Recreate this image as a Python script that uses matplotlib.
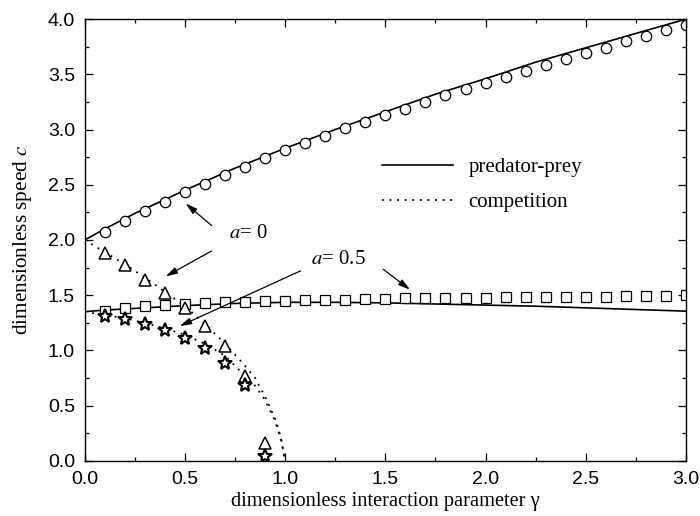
"""Travelling-wave speed c versus interaction parameter gamma (a = 0, a = 0.5)."""

import matplotlib

matplotlib.use("Agg")
import matplotlib.pyplot as plt  # noqa: E402
from matplotlib.lines import Line2D  # noqa: E402
from matplotlib.ticker import MultipleLocator  # noqa: E402

# numerical points, gamma = 0.1 ... 3.0
gamma_pts = [0.1, 0.2, 0.3, 0.4, 0.5, 0.6, 0.7, 0.8, 0.9, 1.0,
             1.1, 1.2, 1.3, 1.4, 1.5, 1.6, 1.7, 1.8, 1.9, 2.0,
             2.1, 2.2, 2.3, 2.4, 2.5, 2.6, 2.7, 2.8, 2.9, 3.0]
circ_a0 = [2.07, 2.17, 2.26, 2.34, 2.43, 2.51, 2.59, 2.66, 2.74, 2.81,
           2.88, 2.94, 3.01, 3.07, 3.13, 3.19, 3.25, 3.31, 3.37, 3.42,
           3.48, 3.53, 3.58, 3.64, 3.69, 3.74, 3.80, 3.85, 3.90, 3.95]
sq_a05 = [1.36, 1.38, 1.40, 1.41, 1.42, 1.43, 1.435, 1.44, 1.445, 1.45,
          1.455, 1.46, 1.46, 1.465, 1.465, 1.47, 1.47, 1.47, 1.475, 1.475,
          1.48, 1.48, 1.48, 1.485, 1.485, 1.485, 1.49, 1.49, 1.49, 1.50]

# competition points, gamma = 0.1 ... 0.9
gamma_comp_pts = [0.1, 0.2, 0.3, 0.4, 0.5, 0.6, 0.7, 0.8, 0.9]
tri_a0 = [1.88, 1.77, 1.64, 1.52, 1.38, 1.22, 1.04, 0.77, 0.16]
star_a05 = [1.31, 1.28, 1.24, 1.18, 1.11, 1.02, 0.89, 0.69, 0.045]

# predator-prey curves
pp_gamma = [0.0, 0.1, 0.25, 0.5, 0.75, 1.0, 1.25, 1.5, 1.75, 2.0, 2.25, 2.5, 2.75, 3.0]
pp_a0 = [2.00, 2.10, 2.24, 2.45, 2.65, 2.83, 3.00, 3.16, 3.32, 3.46, 3.61, 3.74, 3.87, 4.00]
pp_a05 = [1.35, 1.365, 1.38, 1.405, 1.425, 1.435, 1.435, 1.43, 1.42, 1.41, 1.40,
          1.385, 1.37, 1.355]

# competition curves
comp_gamma = [0.0, 0.1, 0.2, 0.3, 0.4, 0.5, 0.6, 0.7, 0.8, 0.85, 0.9, 0.95, 0.98, 1.0]
comp_a0 = [2.00, 1.89, 1.78, 1.66, 1.53, 1.40, 1.24, 1.06, 0.86, 0.75, 0.58, 0.38, 0.20, 0.0]
comp_a05 = [1.35, 1.32, 1.29, 1.25, 1.20, 1.14, 1.06, 0.95, 0.77, 0.68, 0.55, 0.36, 0.19, 0.0]

SERIF = ["Liberation Serif", "DejaVu Serif"]
SANS = ["Liberation Sans", "DejaVu Sans"]


def main() -> None:
    plt.rcParams["mathtext.fontset"] = "stix"
    fig = plt.figure(figsize=(7.0, 5.16), dpi=100)
    ax = fig.add_axes([0.121, 0.107, 0.859, 0.856])

    dots = (0, (1, 3.2))
    ax.plot(pp_gamma, pp_a0, color="k", lw=1.2)
    ax.plot(pp_gamma, pp_a05, color="k", lw=1.2)
    ax.plot(comp_gamma, comp_a0, color="k", lw=1.3, ls=dots)
    ax.plot(comp_gamma, comp_a05, color="k", lw=1.3, ls=dots)

    ax.plot(gamma_pts, circ_a0, ls="none", marker="o", ms=7.5, mfc="white",
            mec="k", mew=0.9)
    ax.plot(gamma_pts, sq_a05, ls="none", marker="s", ms=6.5, mfc="white",
            mec="k", mew=0.9)
    ax.plot(gamma_comp_pts, tri_a0, ls="none", marker="^", ms=9, mfc="white",
            mec="k", mew=1.1)
    ax.plot(gamma_comp_pts, star_a05, ls="none", marker="*", ms=10, mfc="white",
            mec="k", mew=1.5)

    # annotations
    arrow = dict(arrowstyle="-|>,head_length=0.7,head_width=0.2", color="k",
                 lw=0.9, shrinkA=0, shrinkB=0)
    ax.text(0.816, 2.06, "$a$= 0", fontsize=15, family=SERIF,
            ha="center", va="center")
    ax.annotate("", xy=(0.504, 2.33), xytext=(0.633, 2.13), arrowprops=arrow)
    ax.annotate("", xy=(0.404, 1.67), xytext=(0.633, 1.90), arrowprops=arrow)
    ax.text(1.268, 1.82, "$a$= 0.5", fontsize=15, family=SERIF,
            ha="center", va="center")
    ax.annotate("", xy=(0.474, 1.22), xytext=(1.077, 1.72), arrowprops=arrow)
    ax.annotate("", xy=(1.623, 1.55), xytext=(1.489, 1.735), arrowprops=arrow)

    handles = [Line2D([], [], color="k", lw=1.2),
               Line2D([], [], color="k", lw=1.3, ls=dots)]
    ax.legend(handles, ["predator-prey", "competition"], frameon=False,
              loc="center left", bbox_to_anchor=(0.481, 0.625), borderaxespad=0,
              handlelength=3.4, handletextpad=0.75, labelspacing=0.72,
              prop={"family": SERIF, "size": 15})

    ax.set_xlim(0, 3)
    ax.set_ylim(0, 4)
    ax.xaxis.set_major_locator(MultipleLocator(0.5))
    ax.xaxis.set_minor_locator(MultipleLocator(0.25))
    ax.yaxis.set_major_locator(MultipleLocator(0.5))
    ax.yaxis.set_minor_locator(MultipleLocator(0.25))
    ax.xaxis.set_major_formatter(plt.FormatStrFormatter("%.1f"))
    ax.yaxis.set_major_formatter(plt.FormatStrFormatter("%.1f"))
    ax.tick_params(which="both", direction="in", top=True, right=True,
                   width=0.9, labelsize=14, labelfontfamily=SANS)
    ax.tick_params(which="major", length=6, pad=7)
    ax.tick_params(which="minor", length=3)
    for sp in ax.spines.values():
        sp.set_linewidth(1.0)

    ax.set_xlabel("dimensionless interaction parameter γ", fontsize=14.7,
                  family=SERIF, labelpad=3)
    ax.set_ylabel("dimensionless speed $c$", fontsize=15.3, family=SERIF,
                  labelpad=10)

    fig.savefig("out.png", dpi=100)
    plt.close(fig)


if __name__ == "__main__":
    main()
